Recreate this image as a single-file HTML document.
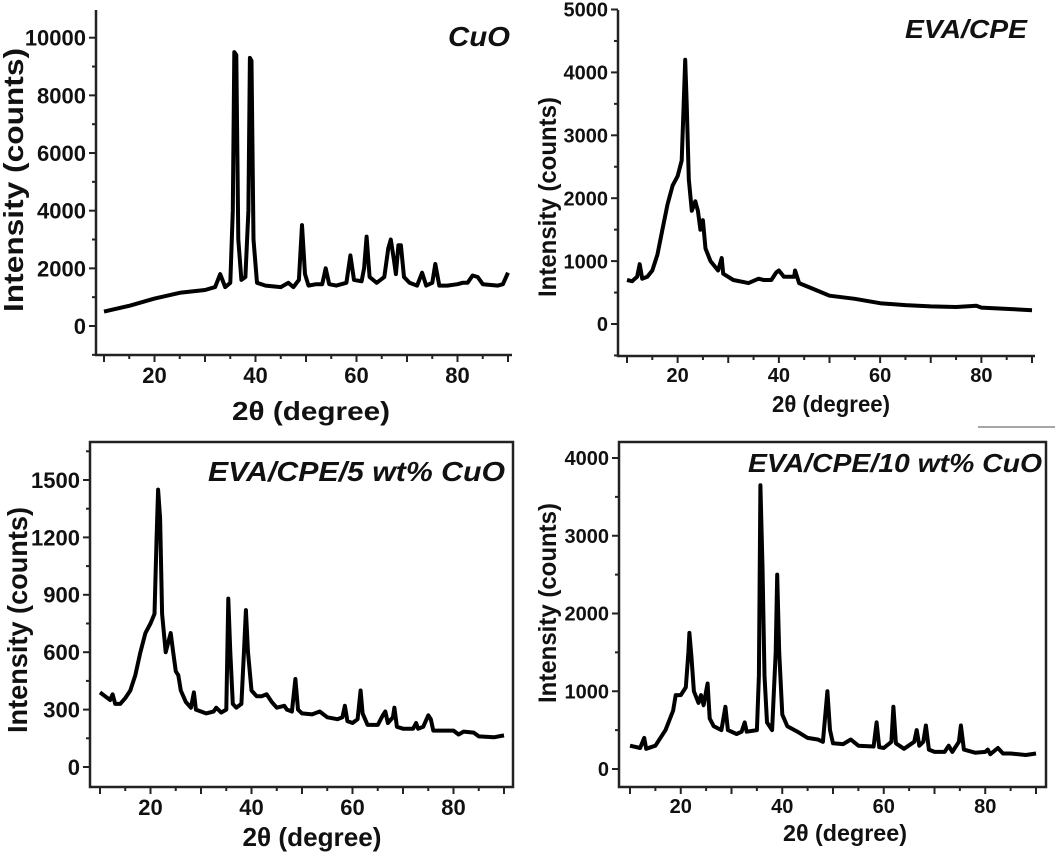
<!DOCTYPE html>
<html><head><meta charset="utf-8"><style>
html,body{margin:0;padding:0;background:#fff;}
svg{display:block;font-family:"Liberation Sans",Arial,sans-serif;}
</style></head><body>
<svg id="fig" width="1059" height="853" viewBox="0 0 1059 853" xmlns="http://www.w3.org/2000/svg">
<line x1="978" y1="427" x2="1055" y2="427" stroke="#888" stroke-width="1.5"/>
</svg>
<script>
// ---- data (2theta, counts) ----
const cuoX=[10,15,20,25,30,32,33,34,35,35.5,35.8,36.2,36.6,37.2,38,38.6,38.9,39.2,39.6,40.3,42,45,46.5,47.5,48.6,49.2,49.8,50.5,52,53.2,53.9,54.6,56,58,58.8,59.5,61,61.5,62,62.6,64,65.5,66.3,66.8,67.4,67.8,68.3,68.8,69.4,70.5,72,73,73.8,75,75.6,76.4,78,80,81,82,83,84,85,88,89,90];
const cuoY=[500,700,950,1150,1250,1350,1800,1350,1500,4000,9500,9400,3000,1600,1700,4000,9300,9200,3000,1500,1400,1350,1500,1350,1600,3500,1800,1400,1450,1450,2000,1450,1400,1500,2450,1600,1550,2000,3100,1700,1500,1700,2700,3000,2300,1800,2800,2800,1700,1500,1400,1850,1400,1500,2150,1400,1400,1450,1500,1500,1750,1700,1450,1400,1450,1850];
const evaX=[10,11,12,12.5,13,14,15,16,17,18,19,20,20.8,21.2,21.5,21.8,22.2,22.8,23.5,24,24.5,25,25.5,26.5,28,28.7,29,31,34,36,37,38.5,39.5,40,41,43,43.2,44,47,50,55,60,65,70,75,79,80,85,90];
const evaY=[700,680,750,950,720,750,850,1100,1500,1900,2200,2350,2600,3500,4200,3500,2300,1800,1950,1800,1500,1650,1200,1000,850,1050,800,700,650,720,700,700,820,850,750,750,850,650,550,450,400,330,300,280,270,290,260,240,220];
const c5X=[10,11,12,12.5,13,14,15,16,17,18,19,20,20.8,21.2,21.5,21.9,22.3,23,23.5,24,24.5,25,25.5,26,27,28,28.6,29,31,32.5,33,34,35,35.4,35.8,36.3,37,38,38.6,38.9,39.3,40,41,42,43,44,45,46.5,47,48,48.7,49.2,50,52,53.5,55,57,58,58.5,59,60,61,61.6,62,63,65,66,66.5,67,68,68.3,68.8,70,72,72.6,73,74,75,75.5,76,78,80,81,82,84,85,88,90];
const c5Y=[390,370,350,380,330,330,360,400,480,600,700,750,800,1200,1450,1300,800,600,650,700,600,500,480,400,340,310,390,300,280,290,310,285,300,880,600,330,310,330,650,820,600,400,370,370,380,340,310,320,300,290,460,300,280,275,290,260,250,260,320,240,230,250,400,280,220,220,270,290,230,260,310,210,200,200,230,200,210,270,250,190,190,190,170,185,180,160,155,165];
const c10X=[10,12,12.8,13.2,15,17,18.5,19,20,21,21.5,21.7,22.1,22.6,23.5,24,24.5,25,25.3,25.7,26.5,28,28.8,29.3,31,32,32.6,33,35,35.4,35.7,36.1,36.5,37,38,38.7,39,39.4,40,41,43,45,47,48,48.9,49.4,50,52,53.5,55,58,58.6,59.1,60,61.5,61.9,62.4,64,66,66.5,67,67.8,68.3,68.9,70,72,72.8,73.5,74.8,75.2,75.8,78,80,80.5,81,82.5,83.5,85,88,90];
const c10Y=[300,270,400,260,300,500,750,950,950,1050,1500,1750,1450,1000,850,950,820,1000,1100,650,550,500,800,500,450,480,600,480,500,1200,3650,2600,1200,600,500,1500,2500,1500,700,550,480,400,380,350,1000,500,330,320,380,300,290,600,280,270,350,800,330,260,350,500,300,350,560,250,220,220,300,220,350,560,250,210,220,250,190,270,200,200,180,200];
const cuoTicks=[0,2000,4000,6000,8000,10000];
const evaTicks=[0,1000,2000,3000,4000,5000];
const c5Ticks=[0,300,600,900,1200,1500];
const c10Ticks=[0,1000,2000,3000,4000];
const xTicks=[20,40,60,80];

const NS="http://www.w3.org/2000/svg";
const svg=document.getElementById('fig');
function mk(tag,attrs,parent,text){const e=document.createElementNS(NS,tag);for(const k in attrs)e.setAttribute(k,attrs[k]);if(text!==undefined)e.textContent=text;(parent||svg).appendChild(e);return e;}

function panel(p){
  const g=mk('g',{});
  
  
  const sx=v=>p.x10+(v-10)*(p.x90-p.x10)/80;
  const sy=v=>p.y0+(v-0)*(p.yTop-p.y0)/p.yTopVal;
  if(p.box){
    const r=mk('rect',{x:p.L,y:p.T,width:p.R-p.L,height:p.B-p.T,fill:'none',stroke:'#222','stroke-width':2.5},g);
    
    
  } else {
    const a=mk('path',{d:`M${p.L},${p.T}V${p.B}H${p.R}`,fill:'none',stroke:'#222','stroke-width':2.5},g);
    
    
  }
  for(let v=10;v<=90;v+=5){
    const len=(v%10===0)?7:4;
    mk('line',{x1:sx(v),x2:sx(v),y1:p.B,y2:p.B+len,stroke:'#222','stroke-width':2},g);
  }
  xTicks.forEach(v=>{
    const t=mk('text',{x:sx(v),y:p.B+p.xtGap,'text-anchor':'middle','font-size':p.tf,'font-weight':'bold',fill:'#111'},g,String(v));
    
    
  });
  const step=p.ticks[1]-p.ticks[0];
  for(let v=-step;v<=p.ticks[p.ticks.length-1]+step;v+=step/2){
    const y=sy(v); if(y<p.T-1||y>p.B+1) continue;
    const major=Math.abs(v/step-Math.round(v/step))<1e-6;
    mk('line',{x1:p.L-(major?7:4),x2:p.L,y1:y,y2:y,stroke:'#222','stroke-width':2},g);
  }
  p.ticks.forEach(v=>{
    const t=mk('text',{x:p.L-10,y:sy(v)+p.tf*0.36,'text-anchor':'end','font-size':p.tf,'font-weight':'bold',fill:'#111'},g,String(v));
    
    
  });
  const pts=p.xs.map((x,i)=>sx(x).toFixed(1)+','+sy(p.ys[i]).toFixed(1)).join(' ');
  const pl=mk('polyline',{points:pts,fill:'none',stroke:'#000','stroke-width':4,'stroke-linejoin':'round'},g);
  
  
  const yt=mk('text',{x:0,y:0,transform:`translate(${p.ytx},${p.yty}) rotate(-90)`,'text-anchor':'middle','font-size':p.ytf,'font-weight':'bold',fill:'#111',textLength:p.ytl,lengthAdjust:'spacingAndGlyphs'},g,'Intensity (counts)');
  
  
  const xt=mk('text',{x:p.xtx,y:p.xty,'text-anchor':'middle','font-size':p.xtf,'font-weight':'bold',fill:'#111',textLength:p.xtl,lengthAdjust:'spacingAndGlyphs'},g,'2θ (degree)');
  
  
  const lb=mk('text',{x:p.lbx,y:p.lby,'text-anchor':'end','font-size':p.lbf,'font-weight':'bold','font-style':'italic',fill:'#111',textLength:p.lbl,lengthAdjust:'spacingAndGlyphs'},g,p.label);
  
  
}

panel({name:'panel-cuo',box:false,L:96,R:512,T:10,B:355,x10:104,x90:508,y0:326,yTop:37.7,yTopVal:10000,ticks:cuoTicks,xs:cuoX,ys:cuoY,tf:22,xtGap:28,ytf:28,ytl:264,ytx:23,yty:180,xtf:26,xtl:158,xtx:311,xty:420,label:'CuO',lbx:510,lby:46,lbf:28,lbl:62});
panel({name:'panel-eva-cpe',box:false,L:618,R:1035,T:10,B:356,x10:627,x90:1032,y0:324,yTop:9.5,yTopVal:5000,ticks:evaTicks,xs:evaX,ys:evaY,tf:20,xtGap:26,ytf:25,ytl:200,ytx:556,yty:197,xtf:23,xtl:118,xtx:831,xty:412,label:'EVA/CPE',lbx:1027,lby:38,lbf:26,lbl:122});
panel({name:'panel-eva-cpe-5cuo',box:true,L:90,R:513,T:442,B:787,x10:100,x90:504,y0:767,yTop:480,yTopVal:1500,ticks:c5Ticks,xs:c5X,ys:c5Y,tf:22,xtGap:28,ytf:28,ytl:226,ytx:27,yty:620,xtf:26,xtl:139,xtx:312,xty:846,label:'EVA/CPE/5 wt% CuO',lbx:505,lby:481,lbf:28,lbl:297});
panel({name:'panel-eva-cpe-10cuo',box:true,L:619,R:1046,T:442,B:787,x10:630,x90:1036,y0:769,yTop:458,yTopVal:4000,ticks:c10Ticks,xs:c10X,ys:c10Y,tf:20,xtGap:26,ytf:25,ytl:200,ytx:556,yty:603,xtf:23,xtl:124,xtx:845,xty:841,label:'EVA/CPE/10 wt% CuO',lbx:1042,lby:472,lbf:26,lbl:294});
</script>
</body></html>
